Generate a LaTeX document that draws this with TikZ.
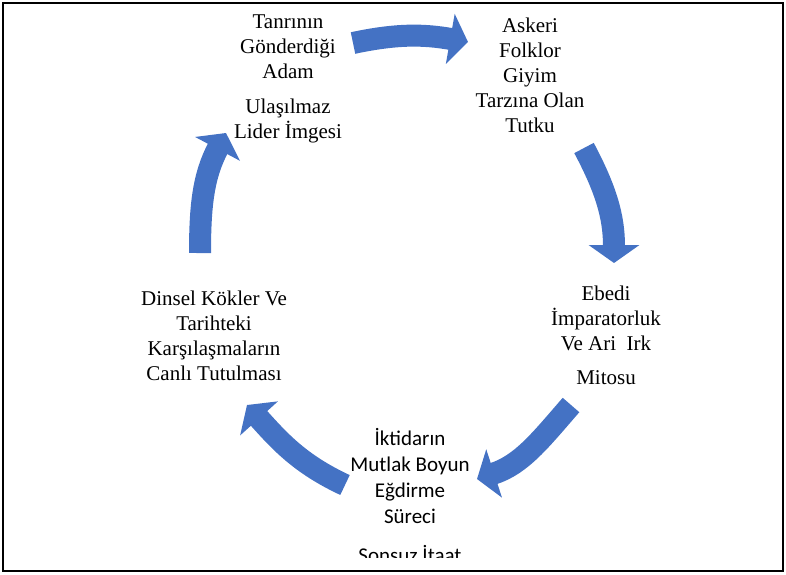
\documentclass[tikz,border=0pt]{standalone}
\usepackage{fontspec}
\setmainfont{Liberation Serif}
\newfontfamily\calibrifont{Carlito}
\usetikzlibrary{positioning,arrows.meta}
\definecolor{wordblue}{HTML}{4472C4}

\begin{document}
\begin{tikzpicture}[
  x=1pt, y=-1pt,
  cyclearrow/.style={draw=wordblue, line width=22pt, -{Triangle[length=18pt,width=50pt]}},
  stage/.style={align=center, inner sep=0pt, font=\fontsize{21}{25}\selectfont},
  sansstage/.style={stage, font=\calibrifont\fontsize{21}{26}\selectfont},
  node distance=19pt
]
\useasboundingbox (0,0) rectangle (786,574);
\draw[line width=2.5pt] (3,3) rectangle (783,571);

% stage texts
\node[stage] (leader) at (288,47.2) {Tanrının\\Gönderdiği\\Adam};
\node[stage, below=of leader] (image) {Ulaşılmaz\\Lider İmgesi};
\node[stage] (folklore) at (530,75.8) {Askeri\\Folklor\\Giyim\\Tarzına Olan\\Tutku};
\node[stage] (empire) at (606,318.7) {Ebedi\\İmparatorluk\\Ve Ari\ \ Irk};
\node[stage, below=of empire] (myth) {Mitosu};
\node[sansstage] (power) at (410,475.5) {İktidarın\\Mutlak Boyun\\Eğdirme\\Süreci};
\node[stage] (roots) at (214,335.7) {Dinsel Kökler Ve\\Tarihteki\\Karşılaşmaların\\Canlı Tutulması};
\begin{scope}
  \clip (0,0) rectangle (786,557);
  \node[sansstage, below=22pt of power] (obey) {Sonsuz İtaat};
\end{scope}

% arrow ends
\coordinate (a1s) at (353,43);  \coordinate (a1e) at (468,42);
\coordinate (a2s) at (584,148); \coordinate (a2e) at (614,263);
\coordinate (a3s) at (571,405); \coordinate (a3e) at (477,479);
\coordinate (a4s) at (345,485); \coordinate (a4e) at (247,405);
\coordinate (a5s) at (200,253); \coordinate (a5e) at (226,133);

% cycle arrows
\draw[cyclearrow] (a1s) to[out=12, in=170] (a1e);
\draw[cyclearrow] (a2s) to[out=-62, in=90] (a2e);
\draw[cyclearrow] (a3s) to[out=-131, in=18] (a3e);
\draw[cyclearrow] (a4s) to[out=155, in=-48] (a4e);
\draw[cyclearrow] (a5s) to[out=90, in=-118] (a5e);

\end{tikzpicture}
\end{document}
